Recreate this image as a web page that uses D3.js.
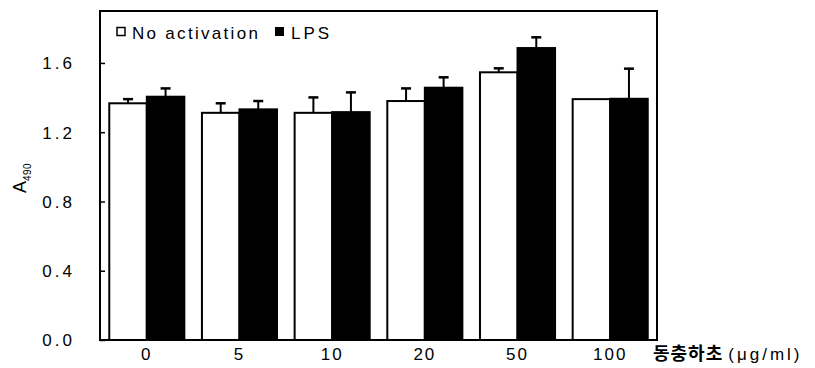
<!DOCTYPE html>
<html><head><meta charset="utf-8">
<script src="https://cdn.jsdelivr.net/npm/d3@7"></script>
<style>
body{margin:0;background:#fff;}
svg{display:block;}
text{font-family:"Liberation Sans",Arial,sans-serif;fill:#000;}
</style></head>
<body><svg id="c" width="815" height="368"></svg>
<script>
const categories = ["0","5","10","20","50","100"];
const seriesNames = ["No activation","LPS"];
const noActivation = [1.367,1.312,1.312,1.380,1.546,1.391];
const noActivationErr = [0.024,0.055,0.089,0.073,0.023,0.0];
const lps = [1.405,1.332,1.316,1.457,1.686,1.393];
const lpsErr = [0.048,0.048,0.114,0.060,0.062,0.174];
const yTicks = [0.0,0.4,0.8,1.2,1.6];
const xTitle = "동충하초";
const xUnit = "(μg/ml)";

const svg = d3.select("#c");
const L=100,R=657,T=11,B=340;
const x = d3.scaleBand().domain(categories).range([L,R]).paddingInner(0.19).paddingOuter(0.1);
const xs = d3.scaleBand().domain(seriesNames).range([0,x.bandwidth()]);
const y = d3.scaleLinear().domain([0,1.9]).range([B,T]);

const data = categories.map((c,i)=>[
  {c,s:seriesNames[0],v:noActivation[i],e:noActivationErr[i],fill:"#fff"},
  {c,s:seriesNames[1],v:lps[i],e:lpsErr[i],fill:"#000"}]).flat();

const eg = svg.append("g");
data.filter(d=>d.e>0).forEach(d=>{
  const cx = x(d.c)+xs(d.s)+xs.bandwidth()/2;
  eg.append("line").attr("x1",cx).attr("x2",cx).attr("y1",y(d.v)).attr("y2",y(d.v+d.e))
    .attr("stroke","#000").attr("stroke-width",2);
  eg.append("line").attr("x1",cx-5).attr("x2",cx+5).attr("y1",y(d.v+d.e)).attr("y2",y(d.v+d.e))
    .attr("stroke","#000").attr("stroke-width",2.5);
});

svg.append("g").selectAll("rect").data(data).join("rect")
  .attr("x",d=>x(d.c)+xs(d.s)).attr("width",xs.bandwidth())
  .attr("y",d=>y(d.v)).attr("height",d=>B-y(d.v))
  .attr("fill",d=>d.fill).attr("stroke","#000").attr("stroke-width",2);

svg.append("rect").attr("x",L).attr("y",T).attr("width",R-L).attr("height",B-T)
  .attr("fill","none").attr("stroke","#000").attr("stroke-width",2);

const ya = svg.append("g").attr("transform",`translate(${L},0)`)
  .call(d3.axisRight(y).tickValues(yTicks).tickSize(5).tickFormat(d3.format(".1f")));
ya.select(".domain").remove();
ya.selectAll(".tick line").attr("stroke","#000").attr("stroke-width",1.5);
ya.selectAll(".tick text").attr("x",-25).attr("text-anchor","end").attr("dy","0.35em")
  .style("font-size","17px").style("letter-spacing","3px");

const xa = svg.append("g").attr("transform",`translate(0,${B})`)
  .call(d3.axisBottom(x).tickSize(0).tickPadding(0));
xa.select(".domain").remove();
xa.selectAll(".tick text").attr("y",8).attr("dy","0.71em")
  .style("font-size","17px").style("letter-spacing","2px");

const xt = svg.append("text").attr("x",653).attr("y",360).style("font-size","17px");
xt.append("tspan").text(xTitle).style("font-family","'Noto Sans CJK KR'").style("font-weight","bold").style("font-size","18px").style("letter-spacing","1px");
xt.append("tspan").attr("dx",5).text(xUnit).style("letter-spacing","3px");

const yt = svg.append("text").attr("transform","translate(26,178) rotate(-90)").attr("text-anchor","middle").style("font-size","18px");
yt.append("tspan").text("A");
yt.append("tspan").text("490").attr("dy",5).style("font-size","10px").style("letter-spacing","0.5px");

const lg = svg.append("g");
lg.append("rect").attr("x",117).attr("y",27.5).attr("width",8).attr("height",8).attr("fill","#fff").attr("stroke","#000").attr("stroke-width",1.5);
lg.append("text").attr("x",132).attr("y",38.5).text(seriesNames[0]).style("font-size","17px").style("letter-spacing","2.3px");
lg.append("rect").attr("x",275).attr("y",27).attr("width",9).attr("height",9).attr("fill","#000");
lg.append("text").attr("x",291).attr("y",38.5).text(seriesNames[1]).style("font-size","17px").style("letter-spacing","3px");
</script></body></html>
